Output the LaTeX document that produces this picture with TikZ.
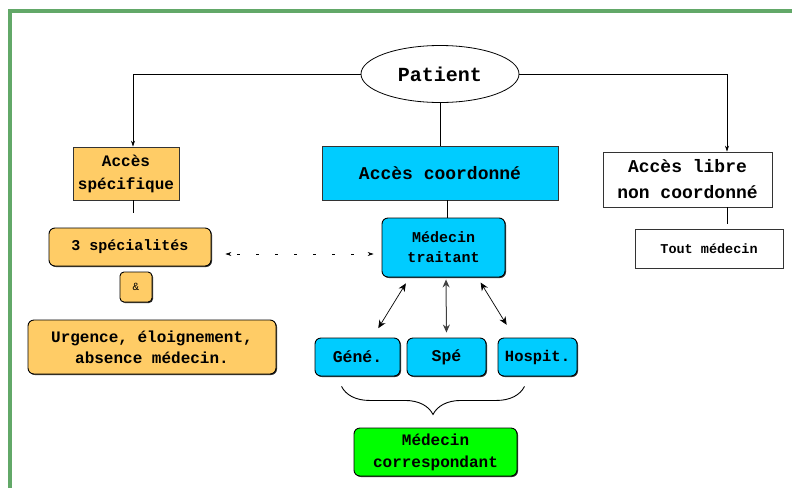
\documentclass[tikz,border=0pt]{standalone}
\usepackage{fontspec}
\setmainfont{Liberation Mono}
\usetikzlibrary{shapes.geometric,arrows.meta,decorations.pathreplacing,shadows}
\definecolor{orangebox}{RGB}{255,204,102}
\definecolor{cyanbox}{RGB}{0,204,255}
\definecolor{greenbox}{RGB}{0,255,0}
\definecolor{framegreen}{RGB}{98,168,104}
\tikzset{
  sqbox/.style={draw=black!80, line width=0.8pt, rectangle, inner sep=0pt, align=center, font=\bfseries},
  rbox/.style={draw=black, line width=0.9pt, rectangle, rounded corners=6pt, inner sep=0pt, align=center, font=\bfseries,
    drop shadow={shadow xshift=1pt, shadow yshift=-1pt, fill=black, opacity=0.8}},
  conn/.style={line width=0.6pt, black},
  smallarrow/.style={conn, -{Stealth[length=6pt,width=4pt]}},
  dblarrow/.style={conn, line width=0.7pt, {Stealth[length=8pt,width=7pt]}-{Stealth[length=8pt,width=7pt]}},
}
\begin{document}
\begin{tikzpicture}[x=1pt,y=-1pt]
\useasboundingbox (0,0) rectangle (792,488);
\fill[white] (0,0) rectangle (792,488);
% frame
\draw[framegreen, line width=4pt] (10,488) -- (10,11) -- (792,11);

% nodes
\node[ellipse, draw=black, line width=0.8pt, fill=white, minimum width=158pt, minimum height=57pt, inner sep=0pt, font=\bfseries\fontsize{20}{24}\selectfont] (pat) at (440,74) {Patient};

\node[sqbox, fill=orangebox, minimum width=106pt, minimum height=53pt, font=\bfseries\fontsize{16}{23}\selectfont] (spec) at (126,173.5) {Accès\\spécifique};
\node[sqbox, fill=cyanbox, minimum width=236pt, minimum height=54pt, font=\bfseries\fontsize{18}{22}\selectfont] (coord) at (440,173) {Accès coordonné};
\node[sqbox, fill=white, minimum width=169pt, minimum height=55pt, font=\bfseries\fontsize{18}{26}\selectfont] (libre) at (687.5,179.5) {Accès libre\\non coordonné};
\node[sqbox, fill=white, minimum width=148pt, minimum height=39pt, font=\bfseries\fontsize{13.5}{16}\selectfont] (tout) at (709,248.5) {Tout médecin};

\node[rbox, fill=orangebox, minimum width=162pt, minimum height=38pt, font=\bfseries\fontsize{15}{18}\selectfont] (trois) at (130,247) {3 spécialités};
\node[rbox, fill=orangebox, minimum width=32pt, minimum height=30pt, rounded corners=4pt, font=\fontsize{11}{13}\selectfont] (amp) at (136,287) {\&};
\node[rbox, fill=orangebox, minimum width=248pt, minimum height=54pt, font=\bfseries\fontsize{16}{21}\selectfont] (urg) at (152,347) {Urgence, éloignement,\\absence médecin.};

\node[rbox, fill=cyanbox, minimum width=123pt, minimum height=59pt, font=\bfseries\fontsize{15}{20}\selectfont] (mt) at (443.5,247.5) {Médecin\\traitant};
\node[rbox, fill=cyanbox, minimum width=85pt, minimum height=38pt, font=\bfseries\fontsize{16.5}{19}\selectfont] (gene) at (357.5,357) {Géné.};
\node[rbox, fill=cyanbox, minimum width=79pt, minimum height=38pt, font=\bfseries\fontsize{16.5}{19}\selectfont] (spe) at (446.5,357) {Spé};
\node[rbox, fill=cyanbox, minimum width=79pt, minimum height=38pt, font=\bfseries\fontsize{15.5}{19}\selectfont] (hosp) at (537.5,357) {Hospit.};

\node[rbox, fill=greenbox, minimum width=163pt, minimum height=48pt, font=\bfseries\fontsize{16}{22}\selectfont] (corr) at (435.5,452) {Médecin\\correspondant};

% connectors from Patient
\draw[smallarrow] (pat.west) -| ([xshift=7pt]spec.north);
\draw[smallarrow] (pat.east) -| ([xshift=39.5pt]libre.north);
\draw[conn] (pat.south) -- (coord.north);
\draw[conn] ([xshift=7pt]coord.south) -- ([xshift=3.5pt]mt.north);

% stubs
\coordinate (specstub) at ([xshift=7pt,yshift=-13pt]spec.south);
\draw[conn] ([xshift=7pt]spec.south) -- (specstub);
\coordinate (librestub) at ([xshift=39.5pt,yshift=-17pt]libre.south);
\draw[conn] ([xshift=39.5pt]libre.south) -- (librestub);

% dotted double arrow
\draw[conn, dash pattern=on 3pt off 16pt, dash phase=-8pt,
  {Stealth[length=6pt,width=4pt]}-{Stealth[length=6pt,width=4pt]},
  shorten <=14pt, shorten >=8pt]
  ([yshift=-7pt]trois.east) -- ([yshift=-6.5pt]mt.west);

% double arrows from Médecin traitant
\draw[dblarrow, shorten <=7pt, shorten >=11pt] ([xshift=-34pt]mt.south) -- ([xshift=15pt]gene.north);
\draw[dblarrow, black!75, line width=1pt, shorten <=2pt, shorten >=5pt] ([xshift=2.5pt]mt.south) -- (spe.north);
\draw[dblarrow, shorten <=6pt, shorten >=15pt] ([xshift=34pt]mt.south) -- ([xshift=-23pt]hosp.north);

% brace
\coordinate (bl) at ([xshift=27pt,yshift=-10pt]gene.south west);
\coordinate (br) at ([xshift=-53pt,yshift=-10pt]hosp.south east);
\draw[conn, line width=0.9pt, decorate, decoration={brace, amplitude=28pt, mirror}] (bl) -- (br);
\end{tikzpicture}
\end{document}
